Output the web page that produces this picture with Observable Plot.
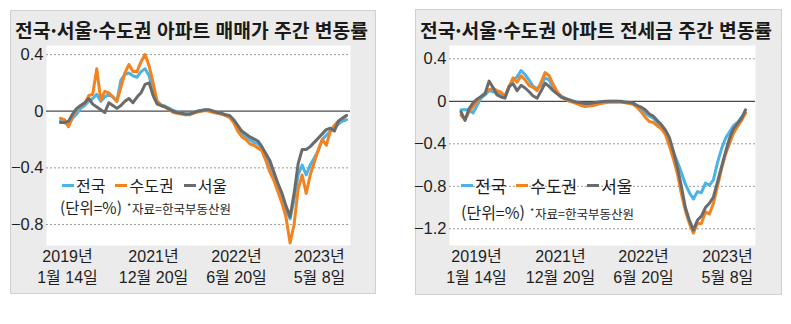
<!DOCTYPE html>
<html lang="ko">
<head>
<meta charset="utf-8">
<script src="https://cdn.jsdelivr.net/npm/d3@7"></script>
<script src="https://cdn.jsdelivr.net/npm/@observablehq/plot@0.6"></script>
<style>
  html,body{margin:0;padding:0;background:#fff;}
  #root{position:relative;width:791px;height:324px;overflow:hidden;font-family:"Liberation Sans","Noto Sans CJK KR",sans-serif;color:#1e1e1e;}
  .box{position:absolute;background:#ebebeb;border:1px solid #d0d0d0;box-sizing:border-box;}
  .title{position:absolute;white-space:nowrap;font-family:"Noto Sans CJK KR",sans-serif;font-weight:700;font-size:19.5px;line-height:19.5px;transform-origin:0 0;color:#1a1a1a;}
  .chart{position:absolute;}
  .legend{position:absolute;display:flex;align-items:center;font-family:"Noto Sans CJK KR",sans-serif;white-space:nowrap;color:#1e1e1e;}
  .legend .item{display:flex;align-items:center;margin-right:10px;}
  .legend .sw{display:inline-block;width:12px;height:3px;margin-right:2px;}
  .note{position:absolute;display:flex;align-items:center;font-family:"Noto Sans CJK KR",sans-serif;white-space:nowrap;color:#1e1e1e;}
  .note .src{font-size:12.5px;line-height:13px;margin-left:5px;}
  .note .src sup{font-size:9px;vertical-align:4px;margin-right:1px;}
</style>
</head>
<body>
<div id="root">
  <div class="box" style="left:10px;top:10px;width:366px;height:284px;"></div>
  <div class="box" style="left:415px;top:9px;width:367px;height:286px;"></div>
  <div class="title" id="t1" data-w="353" style="left:15px;top:19.5px;"></div>
  <div class="title" id="t2" data-w="352" style="left:420px;top:19.5px;"></div>
  <div class="chart" id="c1" style="left:10px;top:40px;"></div>
  <div class="chart" id="c2" style="left:416px;top:40px;"></div>
  <div class="legend" id="l1" style="left:62px;top:177px;font-size:16px;line-height:16px;"></div>
  <div class="legend" id="l2" style="left:461px;top:177px;font-size:17px;line-height:17px;"></div>
  <div class="note" id="n1" style="left:60px;top:200px;font-size:15.5px;line-height:15.5px;"></div>
  <div class="note" id="n2" style="left:461px;top:204px;font-size:16px;line-height:16px;"></div>
</div>
<script>
// ---------- data ----------
const titles = ["전국·서울·수도권 아파트 매매가 주간 변동률", "전국·서울·수도권 아파트 전세금 주간 변동률"];
const seriesNames = ["전국", "수도권", "서울"];
const unitText = "(단위=%)";
const sourceText = "자료=한국부동산원";

const xLabelTop = ["2019년", "2021년", "2022년", "2023년"];
const xLabelBottom = ["1월 14일", "12월 20일", "6월 20일", "5월 8일"];

// week index (of 72 sampled points) at which each date label sits
const saleTickIdx = [1.74, 23.09, 43.69, 64.3];
const jeonseTickIdx = [3.87, 24.83, 45.54, 66.5];

const saleYTicks = [0.4, 0, -0.4, -0.8];
const jeonseYTicks = [0.4, 0, -0.4, -0.8, -1.2];

// 매매가 (sale price) weekly change, %
const saleNation = [-0.07,-0.08,-0.1,-0.05,-0.02,0.02,0.04,0.07,0.09,0.12,
  0.07,0.1,0.12,0.1,0.07,0.22,0.26,0.27,0.25,0.24,
  0.28,0.3,0.25,0.14,0.07,0.045,0.035,0.02,0.005,-0.005,
  -0.015,-0.02,-0.02,-0.01,0.0,0.005,0.01,0.005,-0.005,-0.01,
  -0.02,-0.025,-0.04,-0.07,-0.12,-0.16,-0.18,-0.2,-0.22,-0.23,
  -0.26,-0.32,-0.38,-0.45,-0.53,-0.61,-0.7,-0.76,-0.62,-0.45,
  -0.38,-0.45,-0.38,-0.33,-0.28,-0.2,-0.17,-0.14,-0.12,-0.09,
  -0.07,-0.06];
const saleCapital = [-0.05,-0.06,-0.11,-0.03,0.01,0.04,0.05,0.11,0.12,0.3,
  0.08,0.14,0.13,0.1,0.07,0.17,0.27,0.33,0.28,0.28,
  0.35,0.4,0.32,0.2,0.07,0.04,0.03,0.01,-0.01,-0.015,
  -0.02,-0.025,-0.025,-0.015,-0.005,0.0,0.005,0.0,-0.01,-0.015,
  -0.02,-0.03,-0.045,-0.08,-0.14,-0.18,-0.2,-0.23,-0.24,-0.26,
  -0.28,-0.35,-0.43,-0.49,-0.57,-0.65,-0.75,-0.93,-0.8,-0.55,
  -0.45,-0.58,-0.45,-0.36,-0.27,-0.2,-0.24,-0.14,-0.1,-0.07,
  -0.05,-0.03];
const saleSeoul = [-0.08,-0.08,-0.07,-0.02,0.02,0.04,0.06,0.09,0.05,0.03,
  0.01,-0.01,0.06,0.04,0.02,0.04,0.07,0.09,0.06,0.1,
  0.13,0.19,0.2,0.11,0.05,0.04,0.03,0.015,0.0,-0.01,
  -0.015,-0.02,-0.02,-0.01,0.0,0.005,0.01,0.01,0.0,-0.01,
  -0.015,-0.025,-0.03,-0.06,-0.1,-0.14,-0.16,-0.18,-0.195,-0.21,
  -0.25,-0.3,-0.35,-0.43,-0.51,-0.58,-0.67,-0.745,-0.58,-0.37,
  -0.27,-0.27,-0.25,-0.22,-0.19,-0.16,-0.13,-0.12,-0.14,-0.07,
  -0.05,-0.03];

// 전세금 (jeonse deposit) weekly change, %
const jeonseNation = [-0.08,-0.08,-0.08,-0.11,-0.04,0.03,0.06,0.1,0.09,0.08,
  0.07,0.05,0.13,0.2,0.23,0.29,0.25,0.2,0.14,0.12,
  0.15,0.22,0.2,0.13,0.08,0.05,0.03,0.01,0.0,-0.01,
  -0.02,-0.025,-0.025,-0.02,-0.015,-0.01,-0.005,0.0,0.0,0.0,
  -0.005,-0.01,-0.015,-0.02,-0.04,-0.08,-0.11,-0.14,-0.16,-0.2,
  -0.23,-0.29,-0.37,-0.48,-0.57,-0.67,-0.78,-0.86,-0.92,-0.85,
  -0.86,-0.77,-0.79,-0.74,-0.58,-0.45,-0.35,-0.29,-0.23,-0.2,
  -0.15,-0.11];
const jeonseCapital = [-0.13,-0.17,-0.1,-0.05,0.0,0.04,0.08,0.11,0.12,0.1,
  0.085,0.05,0.14,0.22,0.18,0.24,0.2,0.15,0.13,0.1,
  0.18,0.27,0.24,0.16,0.09,0.04,0.02,0.0,-0.01,-0.025,
  -0.04,-0.05,-0.045,-0.04,-0.03,-0.02,-0.015,-0.01,-0.01,-0.01,
  -0.01,-0.015,-0.02,-0.03,-0.06,-0.1,-0.15,-0.19,-0.2,-0.23,
  -0.26,-0.31,-0.42,-0.54,-0.68,-0.87,-1.03,-1.15,-1.24,-1.15,
  -1.15,-1.04,-1.06,-0.96,-0.8,-0.64,-0.5,-0.4,-0.3,-0.24,
  -0.18,-0.11];
const jeonseSeoul = [-0.1,-0.18,-0.07,-0.015,0.02,0.045,0.07,0.19,0.13,0.06,
  0.04,0.03,0.14,0.165,0.1,0.15,0.125,0.09,0.05,0.03,
  0.1,0.17,0.14,0.1,0.07,0.04,0.025,0.015,0.0,-0.01,
  -0.015,-0.02,-0.02,-0.015,-0.01,-0.005,0.0,0.0,0.0,0.0,
  0.0,-0.01,-0.01,-0.02,-0.04,-0.055,-0.08,-0.12,-0.14,-0.18,
  -0.22,-0.27,-0.34,-0.47,-0.62,-0.8,-1.0,-1.12,-1.21,-1.12,
  -1.08,-1.0,-0.96,-0.9,-0.76,-0.62,-0.48,-0.35,-0.26,-0.21,
  -0.16,-0.08];

// ---------- style ----------
const colors = {nation: "#4cb3e6", capital: "#f4821f", seoul: "#6a6b6d"};

function fmtY(d) {
  return d === 0 ? "0" : (d < 0 ? "\u2212" : "") + Math.abs(d).toFixed(1);
}

function panel({nation, capital, seoul, yTicks, tickIdx, xDomain, yDomain, marginLeft, marginRight}) {
  const top = new Map(tickIdx.map((t, i) => [t, xLabelTop[i]]));
  const bottom = new Map(tickIdx.map((t, i) => [t, xLabelBottom[i]]));
  const grid = yTicks.filter(d => d !== 0);
  const lineOpts = (c) => ({x: (d, i) => i, y: d => d, stroke: c, strokeWidth: 3, strokeLinejoin: "round", strokeLinecap: "round"});
  return Plot.plot({
    width: 365,
    height: 250,
    marginLeft, marginRight,
    marginTop: 5,
    marginBottom: 45,
    style: {background: "transparent", fontFamily: "'Liberation Sans','Noto Sans CJK KR',sans-serif", color: "#1e1e1e", overflow: "visible"},
    x: {type: "linear", domain: xDomain},
    y: {type: "linear", domain: yDomain},
    marks: [
      Plot.frame({fill: "white", stroke: "none"}),
      Plot.ruleY(grid, {stroke: "#9b9b9b", strokeWidth: 1, strokeDasharray: "2,2"}),
      Plot.ruleY([0], {stroke: "#4a4a4a", strokeWidth: 1.2}),
      Plot.axisY(yTicks, {anchor: "left", tickSize: 0, tickPadding: 3, fontSize: 16.5, tickFormat: fmtY, label: null}),
      Plot.axisX(tickIdx, {anchor: "bottom", tickSize: 0, tickPadding: 5, fontSize: 16, tickFormat: d => top.get(d), label: null}),
      Plot.axisX(tickIdx, {anchor: "bottom", tickSize: 0, tickPadding: 26, fontSize: 16, tickFormat: d => bottom.get(d), label: null}),
      Plot.line(nation, lineOpts(colors.nation)),
      Plot.line(capital, lineOpts(colors.capital)),
      Plot.line(seoul, lineOpts(colors.seoul))
    ]
  });
}

document.getElementById("c1").append(panel({
  nation: saleNation, capital: saleCapital, seoul: saleSeoul,
  yTicks: saleYTicks, tickIdx: saleTickIdx,
  xDomain: [-3.476, 72.0], yDomain: [-0.948, 0.464],
  marginLeft: 36, marginRight: 25
}));
document.getElementById("c2").append(panel({
  nation: jeonseNation, capital: jeonseCapital, seoul: jeonseSeoul,
  yTicks: jeonseYTicks, tickIdx: jeonseTickIdx,
  xDomain: [-2.87, 73.5], yDomain: [-1.357, 0.525],
  marginLeft: 33, marginRight: 26
}));

// titles
["t1", "t2"].forEach((id, i) => {
  const el = document.getElementById(id);
  el.textContent = titles[i];
  const w = el.getBoundingClientRect().width;
  el.style.transform = `scaleX(${(+el.dataset.w) / w})`;
});

// legends & notes
const swatchColors = [colors.nation, colors.capital, colors.seoul];
["l1", "l2"].forEach(id => {
  const el = document.getElementById(id);
  seriesNames.forEach((name, i) => {
    const item = document.createElement("span");
    item.className = "item";
    const sw = document.createElement("span");
    sw.className = "sw";
    sw.style.background = swatchColors[i];
    const tx = document.createElement("span");
    tx.textContent = name;
    item.append(sw, tx);
    el.append(item);
  });
});
["n1", "n2"].forEach(id => {
  const el = document.getElementById(id);
  const u = document.createElement("span");
  u.textContent = unitText;
  const s = document.createElement("span");
  s.className = "src";
  const star = document.createElement("sup");
  star.textContent = "*";
  s.append(star, document.createTextNode(sourceText));
  el.append(u, s);
});
</script>
</body>
</html>
